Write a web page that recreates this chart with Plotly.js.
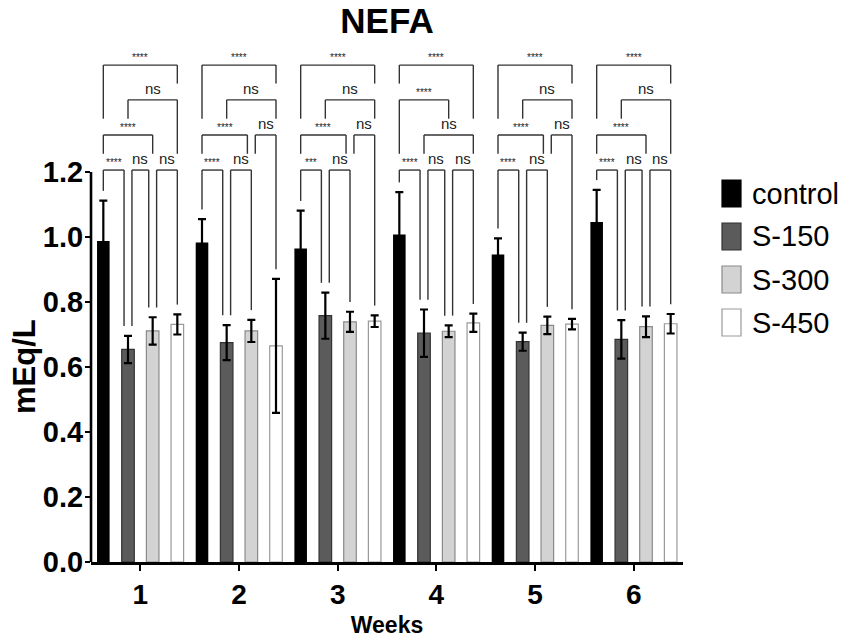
<!DOCTYPE html>
<html>
<head>
<meta charset="utf-8">
<script src="https://cdn.plot.ly/plotly-3.0.1.min.js"></script>
<style>
  html, body { margin: 0; padding: 0; background: #fff; }
  #plota { width: 851px; height: 640px; }
</style>
</head>
<body>
<div id="plota"></div>
<script>
// values (mEq/L)
var weeks = ['1', '2', '3', '4', '5', '6'];
var seriesNames = ['control', 'S-150', 'S-300', 'S-450'];

var control = [0.988, 0.983, 0.965, 1.008, 0.946, 1.046];
var controlErr = [0.124, 0.072, 0.116, 0.130, 0.050, 0.099];
var s150 = [0.654, 0.675, 0.758, 0.704, 0.678, 0.685];
var s150Err = [0.042, 0.054, 0.071, 0.073, 0.028, 0.059];
var s300 = [0.711, 0.711, 0.739, 0.710, 0.728, 0.724];
var s300Err = [0.042, 0.034, 0.031, 0.018, 0.027, 0.032];
var s450 = [0.731, 0.665, 0.741, 0.736, 0.732, 0.733];
var s450Err = [0.031, 0.206, 0.018, 0.028, 0.016, 0.030];

var yTicks = [0, 0.2, 0.4, 0.6, 0.8, 1.0, 1.2];

// significance brackets per week: [bar a, bar b, level, label]
var week1Tests = [[0, 1, 0, '****'], [1, 2, 0, 'ns'], [2, 3, 0, 'ns'], [0, 2, 1, '****'], [1, 3, 2, 'ns'], [0, 3, 3, '****']];
var week2Tests = [[0, 1, 0, '****'], [1, 2, 0, 'ns'], [0, 2, 1, '****'], [2, 3, 1, 'ns'], [1, 3, 2, 'ns'], [0, 3, 3, '****']];
var week3Tests = [[0, 1, 0, '***'], [1, 2, 0, 'ns'], [0, 2, 1, '****'], [2, 3, 1, 'ns'], [1, 3, 2, 'ns'], [0, 3, 3, '****']];
var week4Tests = [[0, 1, 0, '****'], [1, 2, 0, 'ns'], [2, 3, 0, 'ns'], [1, 3, 1, 'ns'], [0, 2, 2, '****'], [0, 3, 3, '****']];
var week5Tests = [[0, 1, 0, '****'], [1, 2, 0, 'ns'], [0, 2, 1, '****'], [2, 3, 1, 'ns'], [1, 3, 2, 'ns'], [0, 3, 3, '****']];
var week6Tests = [[0, 1, 0, '****'], [1, 2, 0, 'ns'], [2, 3, 0, 'ns'], [0, 2, 1, '****'], [1, 3, 2, 'ns'], [0, 3, 3, '****']];
var bracketLevels = [1.206, 1.314, 1.422, 1.529];

var values = [control, s150, s300, s450];
var errors = [controlErr, s150Err, s300Err, s450Err];
var tests = [week1Tests, week2Tests, week3Tests, week4Tests, week5Tests, week6Tests];

var fills = ['#000000', '#5b5b5b', '#d3d3d3', '#ffffff'];
var edges = ['#000000', '#333333', '#8a8a8a', '#9a9a9a'];

var FONT = 'Liberation Sans, Arial, sans-serif';

// plot box in pixels
var L = 91, R = 683, T = 40, B = 562;
var W = 851, H = 640;
function px(x) { return (x - L) / (R - L); }
function py(y) { return (B - y) / (B - T); }

var data = values.map(function (v, i) {
    return {
        x: weeks,
        y: v,
        name: seriesNames[i],
        type: 'bar',
        marker: { color: fills[i], line: { color: edges[i], width: i === 0 ? 0 : 1.2 } },
        error_y: { type: 'data', array: errors[i], visible: true, color: '#000', thickness: 2.2, width: 4 },
        showlegend: false,
        hoverinfo: 'skip'
    };
});

var slot = 0.25, nudge = 0.04;
function barX(w, b) { return w + (b - 1.5) * slot; }

var shapes = [];
var annotations = [];
var bracketLine = { color: '#333', width: 1.4 };

tests.forEach(function (list, w) {
    list.forEach(function (c) {
        var a = c[0], b = c[1], lvl = c[2], label = c[3];
        var xa = barX(w, a), xb = barX(w, b);
        var shared = function (bar) {
            return list.some(function (o) { return o !== c && o[2] === lvl && (o[0] === bar || o[1] === bar); });
        };
        if (shared(a)) xa += nudge;
        if (shared(b)) xb -= nudge;
        var yTop = bracketLevels[lvl];
        // a leg stops just above the highest lower bracket that covers its bar
        var legEnd = function (bar) {
            var below = -1;
            list.forEach(function (o) {
                if (o[2] < lvl && o[0] <= bar && bar <= o[1]) below = Math.max(below, o[2]);
            });
            var end = below >= 0 ? bracketLevels[below] + 0.05 : values[bar][w] + errors[bar][w] + 0.03;
            return Math.min(end, yTop - 0.03);
        };
        shapes.push({ type: 'line', xref: 'x', yref: 'y', x0: xa, x1: xa, y0: legEnd(a), y1: yTop, line: bracketLine });
        shapes.push({ type: 'line', xref: 'x', yref: 'y', x0: xa, x1: xb, y0: yTop, y1: yTop, line: bracketLine });
        shapes.push({ type: 'line', xref: 'x', yref: 'y', x0: xb, x1: xb, y0: legEnd(b), y1: yTop, line: bracketLine });
        var stars = label.charAt(0) === '*';
        annotations.push({
            x: (xa + xb) / 2, y: yTop, xref: 'x', yref: 'y',
            text: label, showarrow: false,
            yanchor: 'bottom', yshift: stars ? 0 : 1,
            font: { family: FONT, size: stars ? 10 : 15, color: '#222' }
        });
    });
});

// y axis line only over the tick range
shapes.push({ type: 'line', xref: 'paper', yref: 'y', x0: 0, x1: 0, y0: 0, y1: yTicks[yTicks.length - 1], line: { color: '#000', width: 2.6 } });

// legend drawn by hand for large swatches
var legTop = [180, 223, 266, 309];
seriesNames.forEach(function (name, i) {
    shapes.push({
        type: 'rect', xref: 'paper', yref: 'paper',
        x0: px(722), x1: px(741), y0: py(legTop[i] + 27), y1: py(legTop[i]),
        fillcolor: fills[i], line: { color: i === 0 ? '#000' : edges[i], width: 1.2 }
    });
    annotations.push({
        xref: 'paper', yref: 'paper', x: px(750), y: py(legTop[i] + 13.5),
        xanchor: 'left', yanchor: 'middle', text: name, showarrow: false,
        font: { family: FONT, size: 29, color: '#000' }
    });
});

// y axis title, centred on the 0 - 1.2 span
annotations.push({
    xref: 'paper', yref: 'y', x: px(24), y: 0.6, text: 'mEq/L', textangle: -90,
    showarrow: false, xanchor: 'center', yanchor: 'middle',
    font: { family: FONT, size: 31, color: '#000', weight: 'bold' }
});

var layout = {
    width: W, height: H,
    margin: { l: L, r: W - R, t: T, b: H - B, pad: 0 },
    paper_bgcolor: '#fff', plot_bgcolor: '#fff',
    font: { family: FONT, color: '#000' },
    title: {
        text: 'NEFA', x: 387 / W, xanchor: 'center', y: 1 - 21 / H, yanchor: 'middle',
        font: { family: FONT, size: 35, weight: 'bold', color: '#000' }
    },
    barmode: 'group', bargap: 0, bargroupgap: 0.49,
    xaxis: {
        type: 'category', range: [-0.5, 5.5],
        showline: true, linecolor: '#000', linewidth: 2.6,
        ticks: 'outside', ticklen: 6, tickwidth: 2.2, tickcolor: '#000',
        showgrid: false, zeroline: false,
        tickfont: { family: FONT, size: 28, weight: 'bold' },
        title: { text: 'Weeks', standoff: 8, font: { family: FONT, size: 23, weight: 'bold' } }
    },
    yaxis: {
        range: [0, (B - T) / 325], showline: false,
        tickvals: yTicks, tickformat: '.1f',
        ticks: 'outside', ticklen: 5, tickwidth: 2.4, tickcolor: '#000',
        ticklabelstandoff: -4,
        showgrid: false, zeroline: false,
        tickfont: { family: FONT, size: 29, weight: 'bold' }
    },
    shapes: shapes,
    annotations: annotations,
    showlegend: false
};

Plotly.newPlot('plota', data, layout, { displayModeBar: false, staticPlot: true });
</script>
</body>
</html>
